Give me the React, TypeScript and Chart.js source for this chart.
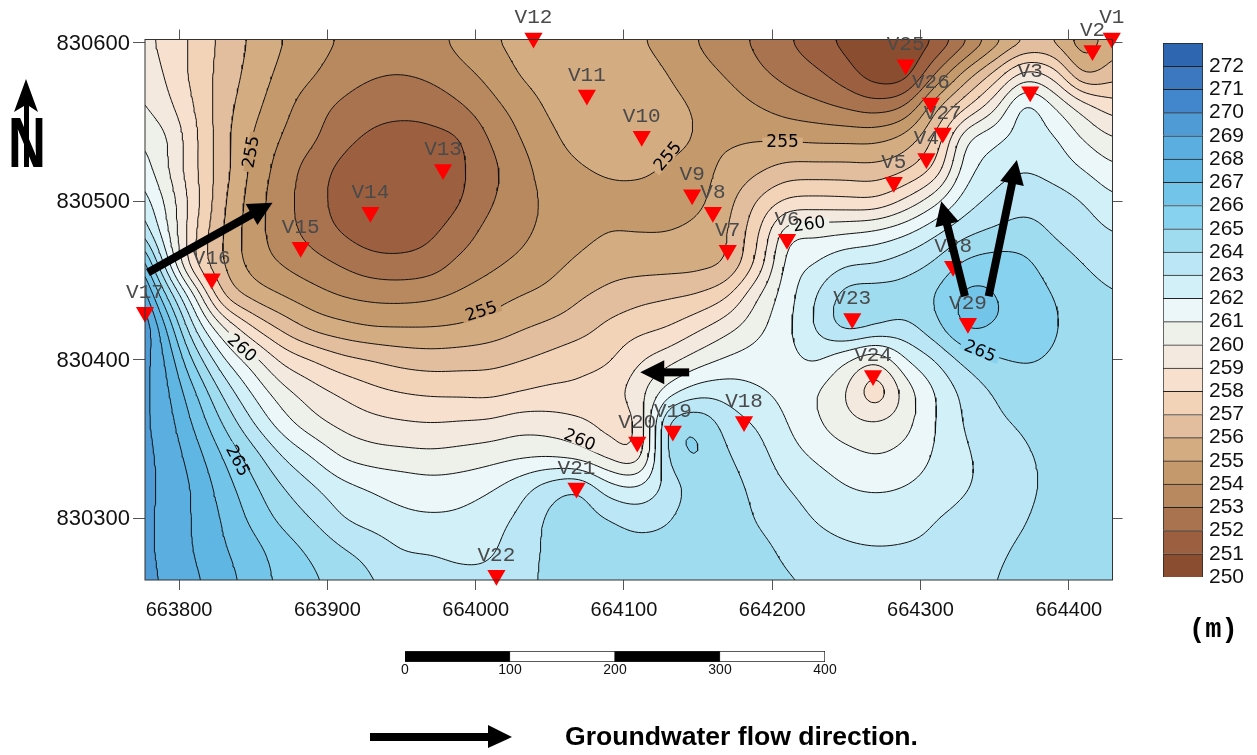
import React, { useEffect, useRef } from "react";
import { Chart, registerables } from "chart.js";

Chart.register(...registerables);

const X_MIN = 663777;
const X_MAX = 664429.5;
const Y_MIN = 830261;
const Y_MAX = 830602;

const gridX0 = 663770;
const gridYTop = 830600;
const gridStep = 20;

const elevationRows: number[][] = [
  [259.4,258.8,257.8,256.7,255.8,255,254.4,253.9,253.6,253.5,253.7,254.3,254.9,255.3,255.6,255.7,255.6,255.1,254.6,253.95,253.4,252.8,252.1,251.35,250.7,250.1,250.1,251,252.7,254.5,255.9,255.9,254.2,255.6],
  [259.8,259,257.7,256.6,255.6,254.7,254.1,253.5,253.1,253,253.2,253.7,254.3,255.1,255.5,255.7,255.7,255.5,255,254.4,253.9,253.2,252.7,252.2,251.4,250.3,250.3,253,255.4,257.3,259.6,258.7,255.6,256.6],
  [260.3,259.4,258,256.4,255.3,254.3,253.4,252.8,252.4,252.3,252.4,252.9,253.7,254.4,255.2,255.6,255.8,255.7,255.3,254.9,254.5,254,253.5,253.2,252.8,252.4,252.95,255.7,257.7,259.7,262.7,261.1,259.5,258.4],
  [261,260.3,258.3,256.3,254.9,253.9,253.2,252.3,251.8,251.6,251.7,251.9,253.1,254,254.8,255.4,255.7,255.8,255.4,254.9,254.85,254.9,254.8,254.7,254.7,254.7,255.3,257.1,261,261.8,262.4,262.2,260.9,260],
  [261.9,260.3,258.2,256.4,254.7,253.5,252.5,251.7,251.3,251.2,251.4,251.8,252.7,253.6,254.5,254.9,255.1,255.3,254.8,254.7,255.2,255.8,256.4,256.4,256.4,256.3,256.8,258.1,261.6,262.6,263,262.6,262,261.2],
  [263,261,258.5,256.1,254.5,253.3,252.45,251.5,251.2,251.3,251.5,251.9,252.9,253.6,254.2,254.7,254.8,254.5,254.5,254.7,255.7,257.1,258.2,258.3,258.2,258.1,259.2,260.7,262.5,263.3,263.7,263.5,263,262.2],
  [264.5,261.5,258.1,255.9,254.4,253.4,252.6,251.9,251.4,251.4,251.8,252.5,253.4,253.75,254.3,254.7,255,255,255,255.3,255.9,257.8,260.9,260.85,261,261.3,261.9,262.9,263.8,264.2,264.45,263.9,263.5,263],
  [268,262.8,257.9,255.9,254.5,253.9,253.4,252.9,252.4,252.3,252.5,253.3,253.8,254.2,254.7,255.2,255.6,255.6,255.6,255.65,255.95,258.2,261.5,262.1,263,263.1,263.6,264.2,265.3,265.6,265.3,264.5,264,263.5],
  [270,265.4,261.2,256.7,255.6,254.95,254.4,253.95,253.75,253.7,253.85,254.2,254.6,255,255.3,255.9,256.3,256.7,256.9,257.1,257.9,260,261.6,263.1,264.6,264.6,264.5,265.1,266.4,266.1,265.6,265,264.5,264.1],
  [271,267.4,263,260.1,258,256.7,255.7,255.3,255,255,255,255.1,255.4,255.9,256.25,256.6,257.3,257.7,258,258.8,259.7,260.7,261.8,263.2,264.6,264.1,263.7,264.7,266.3,266,265.6,265.1,264.6,264.2],
  [269.8,268.2,264.8,262.1,260.4,258.7,258,257.3,257,256.65,256.5,256.6,256.7,256.95,257.3,257.7,257.85,258.9,259.6,260.5,261.2,261.5,261.7,262.2,261,259.9,262,263,264.3,264.9,265.1,264.9,264.5,264.3],
  [269.6,268.4,266.2,263.7,261.8,260.3,259.4,258.8,258.25,257.95,257.8,257.75,257.65,257.95,258.2,258.2,258.6,259.6,261.5,262.6,262.6,262.1,261.7,261,259.9,257.8,260.4,262,263.3,264.1,264.6,264.6,264.5,264.4],
  [269.4,268.6,266.9,264.9,263,261.4,260.3,259.7,259.3,259.1,259,259.1,259.2,259.6,259.5,259.2,258.6,258.8,264.6,265,263.5,262.9,262,261.1,260.3,260.1,260.6,262,263.1,263.8,264.15,264.4,264.5,264.5],
  [269.4,268.8,267.5,265.9,264.4,262.9,261.9,260.8,260.4,260.3,260.2,260.35,260.55,260.75,260.75,260.35,259.5,258.9,264.5,265.3,264.05,263.4,262.4,261.8,261.3,260.95,261.3,262.1,262.9,263.3,263.9,264.2,264.45,264.5],
  [269.3,268.9,267.9,266.5,265.2,264,263.1,262.3,261.9,261.6,261.4,261.5,261.85,262.6,263.6,264.1,262.3,262,263.3,264.6,264.4,263.7,263,262.5,262,261.85,262,262.4,262.9,263.3,263.8,264.2,264.4,264.5],
  [269.2,268.9,267.9,266.9,265.7,264.7,263.95,263,262.5,262.2,262.1,262.2,262.6,263.2,264.3,264.5,264.05,263.55,263.9,264.6,264.6,263.9,263.45,262.9,262.6,262.5,262.6,263,263.3,263.6,263.95,264.3,264.45,264.5],
  [269.2,268.9,267.95,267.1,266.35,265.5,264.8,264.1,263.7,262.95,262.9,262.7,262.8,263.6,264.2,264.4,264.5,264.4,264.4,264.5,264.5,264.3,263.8,263.4,263.15,263.05,263.1,263.2,263.45,263.85,264.15,264.35,264.45,264.5],
  [269.3,268.95,268.2,267.45,266.55,265.75,265.2,264.6,264.05,263.8,263.55,263.3,263.3,263.8,264.15,264.4,264.5,264.5,264.5,264.5,264.5,264.4,264.1,263.9,263.7,263.6,263.6,263.6,263.7,264,264.25,264.4,264.45,264.5],
];

const bandFloors = [250,251,252,253,254,255,256,257,258,259,260,261,262,263,264,265,266,267,268,269,270,271,272];
const bandColors = ["#8B4D2F","#9C6040","#AA7350","#B8885F","#C49A6C","#D4AC82","#E2BE9E","#F2D3B8","#F8E0CF","#F3E9DF","#EEF0EA","#ECF7F9","#D2F0F8","#BAE6F6","#A0DCF0","#87D2EF","#72C4E8","#60B6E2","#5AAEE0","#4F9BD6","#4287CC","#3B78C0","#2F66B0"];
const contourLevels = [251,252,253,254,255,256,257,258,259,260,261,262,263,264,265,266,267,268,269,270,271,272];

const wellNames = ["V1","V2","V3","V4","V5","V6","V7","V8","V9","V10","V11","V12","V13","V14","V15","V16","V17","V18","V19","V20","V21","V22","V23","V24","V25","V26","V27","V28","V29"];
const wellX = [664429,664416,664374,664304,664282,664210,664170,664160,664146,664112,664075,664039,663978,663929,663882,663822,663777,664181,664133,664109,664068,664014,664254,664268,664290,664307,664315,664322,664332];
const wellY = [830603,830595,830569,830527,830512,830476,830469,830493,830504,830541,830567,830603,830520,830493,830471,830451,830430,830361,830355,830348,830319,830264,830426,830390,830586,830562,830543,830459,830423];

const contourLabelText = ["255","255","255","255","260","260","260","265","265"];
const contourLabelX = [663849,664004,664130,664207,663842,664225,664070,663839,664340];
const contourLabelY = [830531,830430,830528,830537,830407,830485,830349,830336,830405];
const contourLabelAngle = [-80,-18,-50,0,42,-8,22,62,22];

const arrowTailX = [663779,664144,664330,664346];
const arrowTailY = [830455,830392,830440,830440];
const arrowHeadX = [663863,664111,664314,664365];
const arrowHeadY = [830499,830392,830500,830526];

const scaleSegments = [[0,100],[100,200],[200,300],[300,400]];
const scaleColors = ["#000000","#ffffff","#000000","#ffffff"];

// Surface through the read nodes: a blend of a through-the-nodes cubic and a smoothing cubic.
function cubic(p0: number, p1: number, p2: number, p3: number, t: number) {
  const t2 = t * t, t3 = t2 * t;
  const cr = 0.5 * (2 * p1 + (p2 - p0) * t + (2 * p0 - 5 * p1 + 4 * p2 - p3) * t2 + (3 * p1 - p0 - 3 * p2 + p3) * t3);
  const u = 1 - t;
  const bs = (u * u * u * p0 + (3 * t3 - 6 * t2 + 4) * p1 + (-3 * t3 + 3 * t2 + 3 * t + 1) * p2 + t3 * p3) / 6;
  return 0.35 * cr + 0.65 * bs;
}
const NR = elevationRows.length;
const NC = elevationRows[0].length;
function elevationAt(x: number, y: number) {
  const u = Math.min(NC - 1, Math.max(0, (x - gridX0) / gridStep));
  const v = Math.min(NR - 1, Math.max(0, (gridYTop - y) / gridStep));
  const i = Math.min(NC - 2, Math.floor(u));
  const j = Math.min(NR - 2, Math.floor(v));
  const t = u - i;
  const s = v - j;
  const vals: number[] = [];
  for (let r = j - 1; r <= j + 2; r++) {
    const row = elevationRows[Math.max(0, Math.min(NR - 1, r))];
    vals.push(cubic(row[Math.max(0, i - 1)], row[i], row[i + 1], row[Math.min(NC - 1, i + 2)], t));
  }
  return cubic(vals[0], vals[1], vals[2], vals[3], s);
}
function bandIndex(z: number) {
  return Math.max(0, Math.min(bandFloors.length - 1, Math.floor(z) - 250));
}
function hexRgb(h: string) {
  return [parseInt(h.slice(1, 3), 16), parseInt(h.slice(3, 5), 16), parseInt(h.slice(5, 7), 16)];
}

function buildContours() {
  const step = 2.5;
  const W = Math.ceil((X_MAX - X_MIN) / step) + 1;
  const H = Math.ceil((Y_MAX - Y_MIN) / step) + 1;
  const xs = Array.from({ length: W }, (_, i) => X_MIN + i * step);
  const ys = Array.from({ length: H }, (_, j) => Y_MIN + j * step);
  const field = ys.map((y) => xs.map((x) => elevationAt(x, y)));
  return contourLevels.map((L) => {
    const pts = new Map<number, { x: number; y: number }>();
    const adj = new Map<number, number[]>();
    const link = (a: number, b: number) => {
      if (!adj.has(a)) adj.set(a, []);
      if (!adj.has(b)) adj.set(b, []);
      adj.get(a)!.push(b);
      adj.get(b)!.push(a);
    };
    const hKey = (i: number, j: number) => (j * W + i) * 2;
    const vKey = (i: number, j: number) => (j * W + i) * 2 + 1;
    for (let j = 0; j < H - 1; j++) {
      for (let i = 0; i < W - 1; i++) {
        const a = field[j][i], b = field[j][i + 1], c = field[j + 1][i + 1], d = field[j + 1][i];
        const hits: number[] = [];
        const add = (key: number, z0: number, z1: number, x0: number, y0: number, x1: number, y1: number) => {
          if ((z0 >= L) !== (z1 >= L)) {
            const t = (L - z0) / (z1 - z0);
            pts.set(key, { x: x0 + (x1 - x0) * t, y: y0 + (y1 - y0) * t });
            hits.push(key);
          }
        };
        add(hKey(i, j), a, b, xs[i], ys[j], xs[i + 1], ys[j]);
        add(vKey(i + 1, j), b, c, xs[i + 1], ys[j], xs[i + 1], ys[j + 1]);
        add(hKey(i, j + 1), d, c, xs[i], ys[j + 1], xs[i + 1], ys[j + 1]);
        add(vKey(i, j), a, d, xs[i], ys[j], xs[i], ys[j + 1]);
        if (hits.length === 2) link(hits[0], hits[1]);
        else if (hits.length === 4) {
          const m = (a + b + c + d) / 4;
          if ((m >= L) === (a >= L)) {
            link(hits[0], hits[1]);
            link(hits[2], hits[3]);
          } else {
            link(hits[0], hits[3]);
            link(hits[1], hits[2]);
          }
        }
      }
    }
    const seen = new Set<number>();
    const out: { x: number; y: number }[] = [];
    const walk = (start: number) => {
      let cur: number | undefined = start;
      while (cur !== undefined && !seen.has(cur)) {
        seen.add(cur);
        out.push(pts.get(cur)!);
        const nextKey: number | undefined = adj.get(cur)!.find((n) => !seen.has(n));
        if (nextKey === undefined) {
          const first = adj.get(cur)!.find((n) => n === start);
          if (first !== undefined && out.length > 3) out.push(pts.get(start)!);
        }
        cur = nextKey;
      }
      out.push({ x: NaN, y: NaN });
    };
    adj.forEach((v, k) => { if (v.length === 1 && !seen.has(k)) walk(k); });
    adj.forEach((_, k) => { if (!seen.has(k)) walk(k); });
    return { L, out };
  });
}

const fillPlugin = {
  id: "bandFill",
  beforeDatasetsDraw(chart: any) {
    const { ctx, chartArea: a, scales } = chart;
    const left = Math.round(a.left), top = Math.round(a.top);
    const w = Math.round(a.right) - left, h = Math.round(a.bottom) - top;
    const off = document.createElement("canvas");
    off.width = w;
    off.height = h;
    const oc = off.getContext("2d")!;
    const img = oc.createImageData(w, h);
    const rgb = bandColors.map(hexRgb);
    for (let py = 0; py < h; py++) {
      const y = scales.y.getValueForPixel(top + py + 0.5);
      for (let px = 0; px < w; px++) {
        const x = scales.x.getValueForPixel(left + px + 0.5);
        const c = rgb[bandIndex(elevationAt(x, y))];
        const o = (py * w + px) * 4;
        img.data[o] = c[0];
        img.data[o + 1] = c[1];
        img.data[o + 2] = c[2];
        img.data[o + 3] = 255;
      }
    }
    oc.putImageData(img, 0, 0);
    ctx.drawImage(off, left, top);
  },
};

function drawArrow(ctx: CanvasRenderingContext2D, x0: number, y0: number, x1: number, y1: number, thick: number, headW: number, headL: number) {
  const ang = Math.atan2(y1 - y0, x1 - x0);
  const len = Math.hypot(x1 - x0, y1 - y0);
  ctx.save();
  ctx.translate(x0, y0);
  ctx.rotate(ang);
  ctx.fillStyle = "#000";
  ctx.fillRect(0, -thick / 2, len - headL + 1, thick);
  ctx.beginPath();
  ctx.moveTo(len, 0);
  ctx.lineTo(len - headL, -headW / 2);
  ctx.lineTo(len - headL, headW / 2);
  ctx.closePath();
  ctx.fill();
  ctx.restore();
}

const overlayPlugin = {
  id: "mapOverlay",
  afterDatasetsDraw(chart: any) {
    const { ctx, chartArea: a, scales } = chart;
    ctx.save();
    ctx.strokeStyle = "#333";
    ctx.lineWidth = 1;
    ctx.strokeRect(a.left, a.top, a.right - a.left, a.bottom - a.top);
    ctx.font = '17px "DejaVu Sans"';
    ctx.textAlign = "center";
    ctx.textBaseline = "middle";
    contourLabelText.forEach((t, i) => {
      const px = scales.x.getPixelForValue(contourLabelX[i]);
      const py = scales.y.getPixelForValue(contourLabelY[i]);
      ctx.save();
      ctx.translate(px, py);
      ctx.rotate((contourLabelAngle[i] * Math.PI) / 180);
      const z = elevationAt(contourLabelX[i], contourLabelY[i]);
      ctx.fillStyle = bandColors[bandIndex(z)];
      const wd = ctx.measureText(t).width + 8;
      ctx.fillRect(-wd / 2, -5, wd, 10);
      ctx.fillStyle = "#000";
      ctx.fillText(t, 0, 0);
      ctx.restore();
    });
    ctx.font = '21px "Liberation Mono"';
    ctx.fillStyle = "#4a4a4a";
    wellNames.forEach((n, i) => {
      ctx.fillText(n, scales.x.getPixelForValue(wellX[i]), scales.y.getPixelForValue(wellY[i]) - 20);
    });
    arrowTailX.forEach((_, i) => {
      drawArrow(ctx, scales.x.getPixelForValue(arrowTailX[i]), scales.y.getPixelForValue(arrowTailY[i]), scales.x.getPixelForValue(arrowHeadX[i]), scales.y.getPixelForValue(arrowHeadY[i]), 8, 24, 24);
    });
    ctx.restore();
  },
};

const tickFmt = (v: any) => String(v);

export default function App() {
  const mainRef = useRef<HTMLCanvasElement>(null);
  const barRef = useRef<HTMLCanvasElement>(null);
  const scaleRef = useRef<HTMLCanvasElement>(null);

  useEffect(() => {
    const contours = buildContours();
    const gridCfg = (len: number) => ({ drawOnChartArea: false, drawTicks: true, tickLength: len, color: "#555", lineWidth: 1 });
    const main = new Chart(mainRef.current!, {
      type: "scatter",
      data: {
        datasets: [
          {
            label: "wells",
            data: wellX.map((x, i) => ({ x, y: wellY[i] })),
            pointStyle: "triangle",
            rotation: 180,
            pointRadius: 10.5,
            pointHoverRadius: 10.5,
            backgroundColor: "#ff0000",
            borderColor: "#ff0000",
            borderWidth: 0,
            showLine: false,
            clip: false,
          } as any,
          ...contours.map((c) => ({
            label: String(c.L),
            data: c.out,
            showLine: true,
            pointRadius: 0,
            borderColor: "#111",
            borderWidth: 1,
            spanGaps: false,
            tension: 0,
            fill: false,
          })),
        ],
      },
      options: {
        responsive: false,
        animation: false,
        devicePixelRatio: 1,
        layout: { padding: 0 },
        plugins: { legend: { display: false }, tooltip: { enabled: false } },
        scales: {
          x: {
            type: "linear", position: "bottom", min: X_MIN, max: X_MAX,
            grid: gridCfg(10), border: { display: false },
            ticks: { stepSize: 100, includeBounds: false, callback: tickFmt, color: "#111", font: { family: "Liberation Sans", size: 20 }, padding: 8, maxRotation: 0 },
            afterFit: (s: any) => { s.height = 175; },
          },
          x2: {
            type: "linear", position: "top", min: X_MIN, max: X_MAX,
            grid: gridCfg(10), border: { display: false },
            ticks: { stepSize: 100, includeBounds: false, callback: () => "", padding: 0 },
            afterFit: (s: any) => { s.height = 39.5; },
          },
          y: {
            type: "linear", position: "left", min: Y_MIN, max: Y_MAX,
            grid: gridCfg(12), border: { display: false },
            ticks: { stepSize: 100, includeBounds: false, callback: tickFmt, color: "#111", font: { family: "Liberation Sans", size: 22 }, padding: 3, labelOffset: 1 },
            afterFit: (s: any) => { s.width = 145; },
          },
          y2: {
            type: "linear", position: "right", min: Y_MIN, max: Y_MAX,
            grid: gridCfg(10), border: { display: false },
            ticks: { stepSize: 100, includeBounds: false, callback: () => "", padding: 0 },
            afterFit: (s: any) => { s.width = 144.5; },
          },
        },
      } as any,
      plugins: [fillPlugin, overlayPlugin],
    });

    const bar = new Chart(barRef.current!, {
      type: "bar",
      data: {
        labels: ["m"],
        datasets: bandFloors.map((f, i) => ({
          label: String(f),
          data: [[f, f + 1]] as any,
          backgroundColor: bandColors[i],
          borderColor: "#222",
          borderWidth: 1,
          barPercentage: 1,
          categoryPercentage: 1,
          grouped: false,
        })) as any,
      },
      options: {
        responsive: false,
        animation: false,
        devicePixelRatio: 1,
        layout: { padding: { top: 13, bottom: 13 } },
        plugins: { legend: { display: false }, tooltip: { enabled: false } },
        scales: {
          x: { display: false },
          y: {
            type: "linear", position: "right", min: 250, max: 273,
            grid: { display: false, drawTicks: false }, border: { display: false },
            ticks: { stepSize: 1, autoSkip: false, callback: (v: any) => (v === 273 ? "" : String(v)), color: "#111", font: { family: "Liberation Sans", size: 21 }, padding: 6 },
            afterFit: (s: any) => { s.width = 54; s.paddingTop = 0; s.paddingBottom = 0; },
          },
        },
      } as any,
    });

    const sc = new Chart(scaleRef.current!, {
      type: "bar",
      data: {
        labels: ["scale"],
        datasets: scaleSegments.map((seg, i) => ({
          label: String(seg[0]),
          data: [seg] as any,
          backgroundColor: scaleColors[i],
          borderColor: "#222",
          borderWidth: 1,
          barPercentage: 1,
          categoryPercentage: 1,
          grouped: false,
        })) as any,
      },
      options: {
        indexAxis: "y",
        responsive: false,
        animation: false,
        devicePixelRatio: 1,
        layout: { padding: { top: 6, left: 30, right: 30 } },
        plugins: { legend: { display: false }, tooltip: { enabled: false } },
        scales: {
          y: { display: false },
          x: {
            type: "linear", min: 0, max: 400,
            grid: { display: false, drawTicks: false }, border: { display: false },
            ticks: { stepSize: 100, color: "#111", font: { family: "Liberation Sans", size: 14 }, padding: 0 },
            afterFit: (s: any) => { s.height = 23; s.paddingLeft = 0; s.paddingRight = 0; },
          },
        },
      } as any,
    });

    return () => {
      main.destroy();
      bar.destroy();
      sc.destroy();
    };
  }, []);

  return (
    <div style={{ position: "fixed", left: 0, top: 0, width: 1257, height: 755, background: "#fff", overflow: "hidden" }}>
      <canvas ref={mainRef} width={1257} height={755} style={{ position: "absolute", left: 0, top: 0 }} />
      <canvas ref={barRef} width={94} height={560} style={{ position: "absolute", left: 1163, top: 30 }} />
      <canvas ref={scaleRef} width={480} height={40} style={{ position: "absolute", left: 375, top: 645 }} />
      <svg width={1257} height={755} style={{ position: "absolute", left: 0, top: 0, pointerEvents: "none" }}>
        <polygon points="26,79 38,112 29,106 29,167 24,167 24,106 14,112" fill="#000" />
        <text transform="translate(8,167) scale(0.75,1)" fontFamily="Liberation Sans" fontWeight="bold" fontSize={70} fill="#000">N</text>
        <polygon points="370,733 488,733 488,725 512,737 488,748 488,741 370,741" fill="#000" />
        <text x={565} y={745} fontFamily="Liberation Sans" fontWeight="bold" fontSize={25} textLength={353} lengthAdjust="spacingAndGlyphs" fill="#000">Groundwater flow direction.</text>
        <text x={1189} y={637} fontFamily="Liberation Mono" fontWeight="bold" fontSize={27} fill="#000">(m)</text>
      </svg>
    </div>
  );
}
